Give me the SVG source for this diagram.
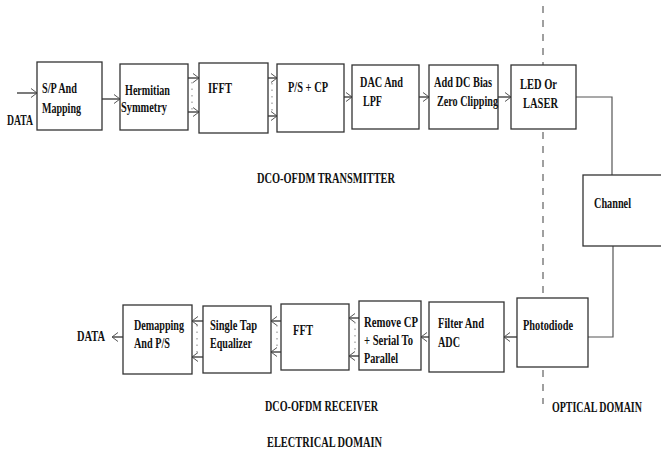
<svg xmlns="http://www.w3.org/2000/svg" width="661" height="454" viewBox="0 0 661 454">
<style>
.box{fill:#fff;stroke:#333;stroke-width:1.3}
.t{font-family:"Liberation Serif","Times New Roman",serif;font-weight:bold;font-size:15px;fill:#111}
.ln{fill:none;stroke:#222;stroke-width:1.2}
.gl{fill:none;stroke:#555;stroke-width:1.2}
.dots{fill:none;stroke:#999;stroke-width:1.2;stroke-dasharray:1.5 5}
.dash{fill:none;stroke:#777;stroke-width:1.4;stroke-dasharray:7 7}
</style>
<defs>
<marker id="ah" markerUnits="userSpaceOnUse" markerWidth="10" markerHeight="12" refX="7" refY="5" orient="auto">
<path d="M1,0.5 L7,5 L1,9.5" fill="none" stroke="#555" stroke-width="1"/>
</marker>
</defs>
<rect width="661" height="454" fill="#fff"/>
<line id="domain-divider" class="dash" x1="543" y1="6" x2="543" y2="404"/>
<g id="connectors">
<line class="ln" x1="17" y1="93" x2="37" y2="93" marker-end="url(#ah)"/>
<line class="ln" x1="102" y1="99" x2="120" y2="99" marker-end="url(#ah)"/>
<line class="ln" x1="188" y1="78" x2="199" y2="78" marker-end="url(#ah)"/>
<line class="ln" x1="188" y1="112" x2="199" y2="112" marker-end="url(#ah)"/>
<line class="dots" x1="192" y1="82" x2="192" y2="110"/>
<line class="ln" x1="268" y1="78" x2="277" y2="78" marker-end="url(#ah)"/>
<line class="ln" x1="268" y1="116" x2="277" y2="116" marker-end="url(#ah)"/>
<line class="dots" x1="272" y1="83" x2="272" y2="112"/>
<line class="ln" x1="344" y1="97" x2="352" y2="97" marker-end="url(#ah)"/>
<line class="ln" x1="419" y1="97" x2="429" y2="97" marker-end="url(#ah)"/>
<line class="ln" x1="498" y1="97" x2="511" y2="97" marker-end="url(#ah)"/>
<polyline class="gl" points="576,97 612,97 612,175"/>
<polyline class="gl" points="613,246 613,337 588,337"/>
<line class="ln" x1="517" y1="337" x2="504" y2="337" marker-end="url(#ah)"/>
<line class="ln" x1="429" y1="337" x2="421" y2="337" marker-end="url(#ah)"/>
<line class="ln" x1="359" y1="318" x2="349" y2="318" marker-end="url(#ah)"/>
<line class="ln" x1="359" y1="356" x2="349" y2="356" marker-end="url(#ah)"/>
<line class="dots" x1="355" y1="322" x2="355" y2="352"/>
<line class="ln" x1="281" y1="321" x2="271" y2="321" marker-end="url(#ah)"/>
<line class="ln" x1="281" y1="352" x2="271" y2="352" marker-end="url(#ah)"/>
<line class="dots" x1="277" y1="325" x2="277" y2="349"/>
<line class="ln" x1="203" y1="321" x2="192" y2="321" marker-end="url(#ah)"/>
<line class="ln" x1="203" y1="357" x2="192" y2="357" marker-end="url(#ah)"/>
<line class="dots" x1="197" y1="325" x2="197" y2="354"/>
<line class="ln" x1="123" y1="337" x2="112" y2="337" marker-end="url(#ah)"/>
</g>
<g id="sp-mapping">
<rect class="box" x="37" y="62" width="65" height="68"/>
<text class="t" x="42" y="93" textLength="35" lengthAdjust="spacingAndGlyphs">S/P And</text>
<text class="t" x="42" y="113" textLength="39" lengthAdjust="spacingAndGlyphs">Mapping</text>
</g>
<g id="hermitian">
<rect class="box" x="120" y="64" width="68" height="66"/>
<text class="t" x="125" y="95" textLength="45" lengthAdjust="spacingAndGlyphs">Hermitian</text>
<text class="t" x="121" y="112" textLength="46" lengthAdjust="spacingAndGlyphs">Symmetry</text>
</g>
<g id="ifft">
<rect class="box" x="199" y="63" width="69" height="70"/>
<text class="t" x="208" y="93" textLength="24" lengthAdjust="spacingAndGlyphs">IFFT</text>
</g>
<g id="ps-cp">
<rect class="box" x="277" y="64" width="67" height="68"/>
<text class="t" x="288" y="92" textLength="40" lengthAdjust="spacingAndGlyphs">P/S + CP</text>
</g>
<g id="dac-lpf">
<rect class="box" x="352" y="65" width="67" height="64"/>
<text class="t" x="360" y="87" textLength="43" lengthAdjust="spacingAndGlyphs">DAC And</text>
<text class="t" x="363" y="106" textLength="19" lengthAdjust="spacingAndGlyphs">LPF</text>
</g>
<g id="dc-bias">
<rect class="box" x="429" y="65" width="69" height="64"/>
<text class="t" x="434" y="87" textLength="58" lengthAdjust="spacingAndGlyphs">Add DC Bias</text>
<text class="t" x="437" y="106" textLength="61" lengthAdjust="spacingAndGlyphs">Zero Clipping</text>
</g>
<g id="led-laser">
<rect class="box" x="511" y="65" width="65" height="64"/>
<text class="t" x="520" y="89" textLength="37" lengthAdjust="spacingAndGlyphs">LED Or</text>
<text class="t" x="523" y="108" textLength="35" lengthAdjust="spacingAndGlyphs">LASER</text>
</g>
<g id="channel">
<rect class="box" x="583" y="175" width="90" height="71"/>
<text class="t" x="594" y="208" textLength="37" lengthAdjust="spacingAndGlyphs">Channel</text>
</g>
<g id="photodiode">
<rect class="box" x="517" y="298" width="71" height="69"/>
<text class="t" x="523" y="330" textLength="50" lengthAdjust="spacingAndGlyphs">Photodiode</text>
</g>
<g id="filter-adc">
<rect class="box" x="429" y="302" width="75" height="70"/>
<text class="t" x="438" y="328" textLength="46" lengthAdjust="spacingAndGlyphs">Filter And</text>
<text class="t" x="438" y="347" textLength="22" lengthAdjust="spacingAndGlyphs">ADC</text>
</g>
<g id="remove-cp">
<rect class="box" x="359" y="301" width="62" height="69"/>
<text class="t" x="364" y="327" textLength="54" lengthAdjust="spacingAndGlyphs">Remove CP</text>
<text class="t" x="364" y="345" textLength="49" lengthAdjust="spacingAndGlyphs">+ Serial To</text>
<text class="t" x="364" y="363" textLength="34" lengthAdjust="spacingAndGlyphs">Parallel</text>
</g>
<g id="fft">
<rect class="box" x="281" y="304" width="68" height="66"/>
<text class="t" x="293" y="335" textLength="20" lengthAdjust="spacingAndGlyphs">FFT</text>
</g>
<g id="equalizer">
<rect class="box" x="203" y="306" width="68" height="67"/>
<text class="t" x="210" y="330" textLength="47" lengthAdjust="spacingAndGlyphs">Single Tap</text>
<text class="t" x="210" y="348" textLength="42" lengthAdjust="spacingAndGlyphs">Equalizer</text>
</g>
<g id="demapping">
<rect class="box" x="123" y="305" width="69" height="69"/>
<text class="t" x="134" y="330" textLength="50" lengthAdjust="spacingAndGlyphs">Demapping</text>
<text class="t" x="134" y="348" textLength="36" lengthAdjust="spacingAndGlyphs">And P/S</text>
</g>
<g id="labels">
<text class="t" x="7" y="125" textLength="26" lengthAdjust="spacingAndGlyphs">DATA</text>
<text class="t" x="77" y="341" textLength="28" lengthAdjust="spacingAndGlyphs">DATA</text>
<text class="t" x="257" y="183" textLength="138" lengthAdjust="spacingAndGlyphs">DCO-OFDM TRANSMITTER</text>
<text class="t" x="265" y="411" textLength="113" lengthAdjust="spacingAndGlyphs">DCO-OFDM RECEIVER</text>
<text class="t" x="267" y="447" textLength="115" lengthAdjust="spacingAndGlyphs">ELECTRICAL DOMAIN</text>
<text class="t" transform="translate(552,412) scale(0.665,1)" x="0" y="0">OPTICAL DOMAIN</text>
</g>
</svg>
